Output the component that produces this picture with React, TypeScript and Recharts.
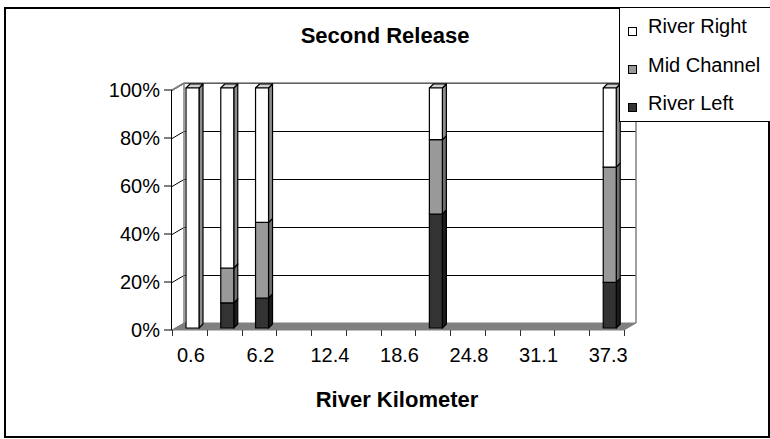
import React from 'react';
import { BarChart, Bar, XAxis, YAxis, CartesianGrid, Legend, ReferenceArea, Label } from 'recharts';

// ---- data ----
const categories = ['0.6', '3.1', '6.2', '9.3', '12.4', '15.5', '18.6', '21.7', '24.8', '28.0', '31.1', '34.2', '37.3'];
const riverLeft: (number | null)[] = [0, 10.5, 12.5, null, null, null, null, 47.5, null, null, null, null, 19];
const midChannel: (number | null)[] = [0, 14.5, 31.5, null, null, null, null, 31, null, null, null, null, 48];
const riverRight: (number | null)[] = [100, 75, 56, null, null, null, null, 21.5, null, null, null, null, 33];
const yTicks = [0, 20, 40, 60, 80, 100];
const legendOrder = ['River Right', 'Mid Channel', 'River Left'];

const data = categories.map((km, i) => ({
  km,
  left: riverLeft[i],
  mid: midChannel[i],
  right: riverRight[i],
}));

// ---- style ----
const FONT = '"Liberation Sans", Arial, sans-serif';
const WALL_DX = 12;
const WALL_DY = -7;
const BAR_SHIFT_X = 3;
const BAR_SHIFT_Y = -2;
const BAR_DEPTH = 4;
const WALL_GRAY = '#808080';

const makeBar3D = (front: string, side: string, top: string) => (props: any) => {
  const { x, y, width, height } = props;
  if (height == null || !(height > 0.01)) return <g />;
  const X = x + BAR_SHIFT_X;
  const Y = y + BAR_SHIFT_Y;
  const d = BAR_DEPTH;
  return (
    <g stroke="#000" strokeWidth={1.2} strokeLinejoin="round">
      <polygon
        points={`${X + width},${Y + height} ${X + width},${Y} ${X + width + d},${Y - d} ${X + width + d},${Y + height - d}`}
        fill={side}
      />
      <polygon points={`${X},${Y} ${X + d},${Y - d} ${X + width + d},${Y - d} ${X + width},${Y}`} fill={top} />
      <rect x={X} y={Y} width={width} height={height} fill={front} />
    </g>
  );
};

const GridLine = (props: any) => {
  const { x1, y1, x2, y2 } = props;
  const a = Math.round(y1) + 0.5;
  const b = Math.round(y2) + 0.5;
  return (
    <g>
      <line x1={x1} y1={a} x2={x1 + WALL_DX} y2={a + WALL_DY} stroke="#000" strokeWidth={1} />
      <line x1={x1 + WALL_DX} y1={a + WALL_DY} x2={x2 + WALL_DX} y2={b + WALL_DY} stroke="#000" strokeWidth={1} />
    </g>
  );
};

const Walls = (props: any) => {
  const { x, y, width, height } = props;
  const bottom = y + height;
  const right = x + width;
  return (
    <g>
      <polygon
        points={`${x},${bottom} ${right},${bottom} ${right + WALL_DX},${bottom + WALL_DY} ${x + WALL_DX},${bottom + WALL_DY}`}
        fill={WALL_GRAY}
        stroke={WALL_GRAY}
        strokeWidth={1}
      />
      <g stroke={WALL_GRAY} strokeWidth={1.5} fill="none">
        <line x1={x} y1={y} x2={x + WALL_DX} y2={y + WALL_DY} />
        <line x1={x + WALL_DX} y1={y + WALL_DY} x2={right + WALL_DX} y2={y + WALL_DY} />
        <line x1={x + WALL_DX} y1={y + WALL_DY} x2={x + WALL_DX} y2={bottom + WALL_DY} />
        <line x1={right + WALL_DX} y1={y + WALL_DY} x2={right + WALL_DX} y2={bottom + WALL_DY} />
      </g>
      <line x1={x - 0.5} y1={y} x2={x - 0.5} y2={bottom} stroke="#000" strokeWidth={1} />
    </g>
  );
};

const KmTick = (props: any) => {
  const { x, y, payload, index, visibleTicksCount } = props;
  const half = payload && payload.offset > 0 ? payload.offset : 452 / categories.length / 2;
  const count = visibleTicksCount || categories.length;
  const axisY = y - 8;
  const lx = Math.round(x - half) + 0.5;
  const rx = Math.round(x + half) + 0.5;
  return (
    <g>
      <line x1={lx} y1={axisY} x2={lx} y2={axisY + 6} stroke="#333" strokeWidth={1} />
      {index === count - 1 && <line x1={rx} y1={axisY} x2={rx} y2={axisY + 6} stroke="#333" strokeWidth={1} />}
      {index % 2 === 0 && (
        <text x={x + 1.5} y={axisY + 31.7} textAnchor="middle" fontSize={20} fontFamily={FONT} fill="#000">
          {payload.value}
        </text>
      )}
    </g>
  );
};

const AxisTitle = (props: any) => {
  const vb = props.viewBox || { x: 172, y: 330, width: 452 };
  return (
    <text
      x={vb.x + vb.width / 2 - 1}
      y={vb.y + 76.7}
      textAnchor="middle"
      fontSize={22}
      fontWeight="bold"
      fontFamily={FONT}
      fill="#000"
    >
      River Kilometer
    </text>
  );
};

const LegendBox = (props: any) => {
  const payload: any[] = props.payload || [];
  const items = legendOrder
    .map((name) => payload.find((p: any) => p.value === name))
    .filter(Boolean);
  return (
    <div
      style={{
        width: 170,
        height: 115,
        boxSizing: 'border-box',
        border: '1px solid #000',
        background: '#fff',
        position: 'relative',
        fontFamily: FONT,
      }}
    >
      {items.map((it: any, i: number) => (
        <div key={it.value} style={{ position: 'absolute', left: 0, top: i * 38.33, height: 38.33, width: 168 }}>
          <div
            style={{
              position: 'absolute',
              left: 8,
              top: 18.7,
              width: 9,
              height: 9,
              boxSizing: 'border-box',
              border: '1px solid #000',
              background: it.color,
            }}
          />
          <span
            style={{
              position: 'absolute',
              left: 28,
              top: 8.4,
              fontSize: 20,
              lineHeight: '20px',
              whiteSpace: 'nowrap',
              color: '#000',
            }}
          >
            {it.value}
          </span>
        </div>
      ))}
    </div>
  );
};

export default function App() {
  return (
    <div
      style={{
        position: 'absolute',
        left: 0,
        top: 0,
        width: 770,
        height: 439,
        overflow: 'hidden',
        background: '#fff',
        fontFamily: FONT,
      }}
    >
      <div
        style={{
          position: 'absolute',
          left: 4,
          top: 7,
          width: 766,
          height: 431,
          border: '2px solid #000',
          boxSizing: 'border-box',
        }}
      />
      <div
        style={{
          position: 'absolute',
          left: 0,
          top: 24.7,
          width: 770,
          textAlign: 'center',
          fontSize: 22,
          lineHeight: '22px',
          fontWeight: 'bold',
          color: '#000',
        }}
      >
        Second Release
      </div>
      <div style={{ position: 'absolute', left: 0, top: 0 }}>
        <BarChart
          width={770}
          height={439}
          data={data}
          margin={{ top: 90, right: 146, bottom: 49, left: 0 }}
          barSize={13}
        >
          <CartesianGrid horizontal={GridLine} vertical={false} stroke="#000" />
          <ReferenceArea y1={0} y2={100} shape={Walls} ifOverflow="visible" />
          <XAxis
            dataKey="km"
            type="category"
            interval={0}
            height={60}
            axisLine={false}
            tickLine={false}
            tickSize={6}
            tickMargin={2}
            tick={KmTick}
          >
            <Label content={AxisTitle} />
          </XAxis>
          <YAxis
            type="number"
            domain={[0, 100]}
            ticks={yTicks}
            width={172}
            axisLine={false}
            tickLine={{ stroke: '#000' }}
            tickSize={8}
            tickMargin={4}
            tickFormatter={(v: number) => `${v}%`}
            tick={{ fontSize: 20, fontFamily: FONT, fill: '#000' }}
          />
          <Legend
            layout="horizontal"
            verticalAlign="middle"
            align="center"
            width={170}
            height={115}
            wrapperStyle={{ left: 619, top: 7, width: 170, height: 115 }}
            content={LegendBox}
          />
          <Bar
            dataKey="left"
            name="River Left"
            stackId="a"
            fill="#333333"
            isAnimationActive={false}
            shape={makeBar3D('#333333', '#1c1c1c', '#4a4a4a')}
          />
          <Bar
            dataKey="mid"
            name="Mid Channel"
            stackId="a"
            fill="#999999"
            isAnimationActive={false}
            shape={makeBar3D('#999999', '#6e6e6e', '#b5b5b5')}
          />
          <Bar
            dataKey="right"
            name="River Right"
            stackId="a"
            fill="#ffffff"
            isAnimationActive={false}
            shape={makeBar3D('#ffffff', '#8c8c8c', '#cfcfcf')}
          />
        </BarChart>
      </div>
    </div>
  );
}
